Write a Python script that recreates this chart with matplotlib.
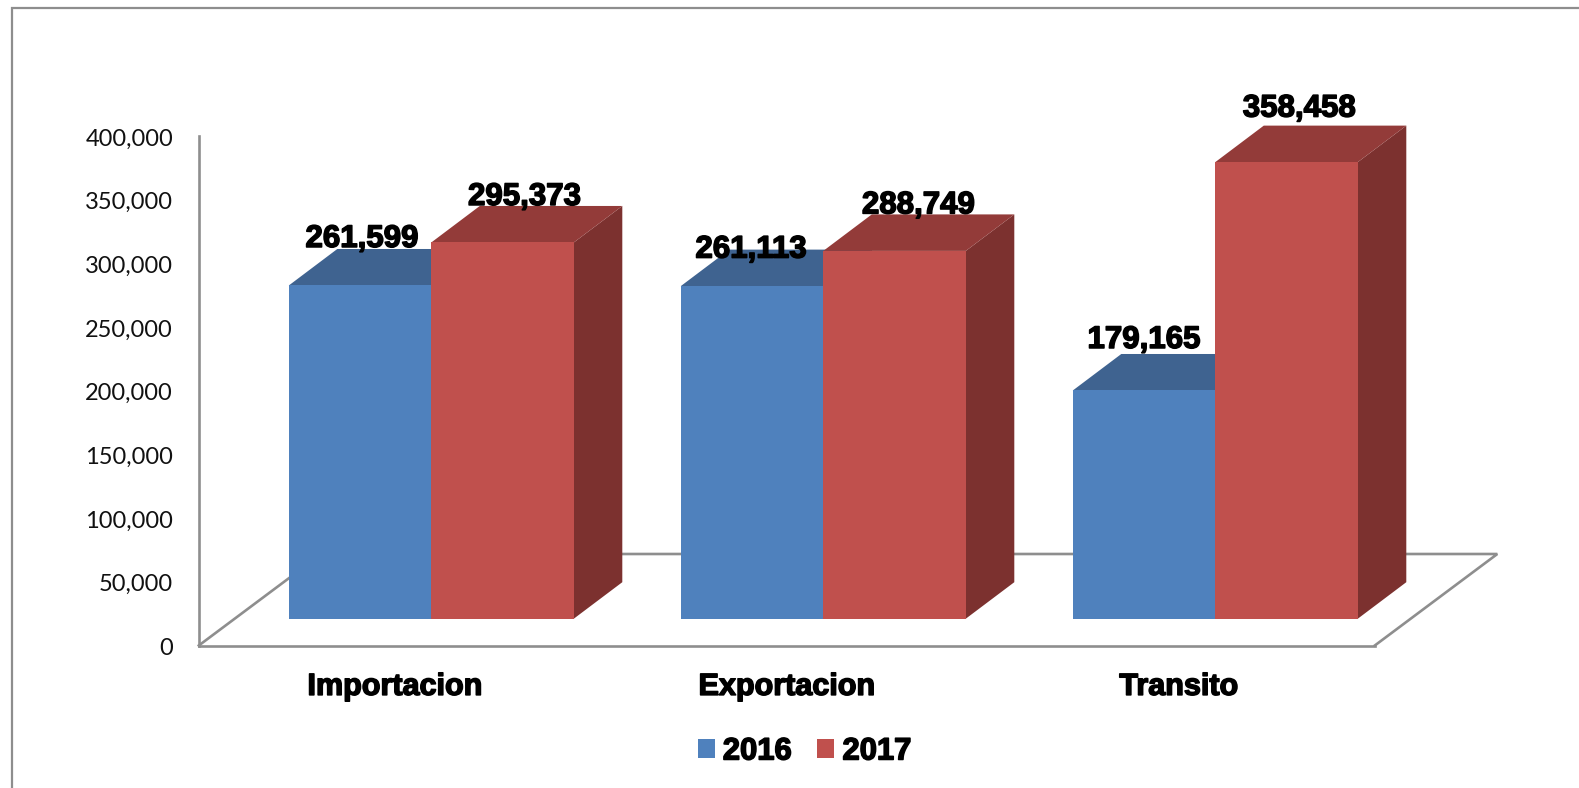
import matplotlib
matplotlib.use("Agg")
import matplotlib.pyplot as plt
import matplotlib.patheffects as pe
from matplotlib.lines import Line2D
from matplotlib.patches import Polygon
from matplotlib.transforms import ScaledTranslation

categories = ["Importacion", "Exportacion", "Transito"]
series_names = ["2016", "2017"]
values_2016 = [261599, 261113, 179165]
values_2017 = [295373, 288749, 358458]
y_ticks = [0, 50000, 100000, 150000, 200000, 250000, 300000, 350000, 400000]

W, H = 1579, 788
PLOT_L, PLOT_R, PLOT_B, PLOT_T = 198.8, 1374.8, 645.5, 136.0
px_x = 3 / (PLOT_R - PLOT_L)
px_y = 400000 / (PLOT_B - PLOT_T)

FLOOR_DX, FLOOR_DY = 122.5 * px_x, 91.5 * px_y
LIFT_DX, LIFT_DY = 36.5 * px_x, 26.8 * px_y
DEPTH_DX, DEPTH_DY = 48.5 * px_x, 36.5 * px_y
BAR_W = 142.5 * px_x

GREY = "#8e8e8e"
COLORS = {
    "2016": ("#4F81BD", "#3F6390", "#34527A"),
    "2017": ("#C0504D", "#933B39", "#7C312F"),
}
STROKE = [pe.withStroke(linewidth=1.1, foreground="black")]
BOLD = dict(family="Liberation Sans", fontweight="bold", color="black", path_effects=STROKE)

# label nudges in pixels relative to the back edge of each bar's top
LABEL_NUDGE = {
    "2016": [(2, 10), (-1, 0), (0, 14)],
    "2017": [(22, 9), (24, 9), (13, 17)],
}

fig = plt.figure(figsize=(W / 100, H / 100), dpi=100, facecolor="white")
ax = fig.add_axes([PLOT_L / W, 1 - PLOT_B / H, (PLOT_R - PLOT_L) / W, (PLOT_B - PLOT_T) / H])
ax.set_xlim(0, 3)
ax.set_ylim(0, 400000)
ax.patch.set_visible(False)

for s in ("top", "right"):
    ax.spines[s].set_visible(False)
for s in ("left", "bottom"):
    ax.spines[s].set_color(GREY)
    ax.spines[s].set_linewidth(1.9)

# floor outline
floor_x = [0, FLOOR_DX, 3 + FLOOR_DX, 3]
floor_y = [0, FLOOR_DY, FLOOR_DY, 0]
ax.plot(floor_x, floor_y, color=GREY, lw=1.9, clip_on=False, zorder=1, solid_joinstyle="miter")

handles = []
for name, vals, sign in (("2016", values_2016, -1), ("2017", values_2017, 0)):
    front, top, side = COLORS[name]
    for i, v in enumerate(vals):
        x0 = i + 0.5 + LIFT_DX + sign * BAR_W
        x1 = x0 + BAR_W
        y0 = LIFT_DY
        y1 = LIFT_DY + v
        z = 3 + i * 3 + (0 if name == "2016" else 1.5)
        ax.add_patch(Polygon([(x1, y0), (x1 + DEPTH_DX, y0 + DEPTH_DY),
                              (x1 + DEPTH_DX, y1 + DEPTH_DY), (x1, y1)],
                             fc=side, ec="none", clip_on=False, zorder=z))
        ax.add_patch(Polygon([(x0, y1), (x0 + DEPTH_DX, y1 + DEPTH_DY),
                              (x1 + DEPTH_DX, y1 + DEPTH_DY), (x1, y1)],
                             fc=top, ec="none", clip_on=False, zorder=z))
        bars = ax.bar(x0, v, width=BAR_W, bottom=y0, align="edge", color=front,
                      clip_on=False, zorder=z + 0.5, label=name if i == 0 else None)
        if i == 0:
            handles.append(bars[0])
        nx, ny = LABEL_NUDGE[name][i]
        ax.annotate(f"{v:,}", xy=(x0 + BAR_W / 2, y1 + DEPTH_DY),
                    xytext=(nx * 0.72, ny * 0.72), textcoords="offset points",
                    ha="center", va="center", fontsize=22.5, zorder=30,
                    annotation_clip=False, **BOLD)

ax.set_yticks(y_ticks)
ax.set_yticklabels([f"{t:,}" for t in y_ticks], family="Lato", fontsize=17, color="#111111")
ax.tick_params(axis="y", length=0, pad=18.5)
ax.set_xticks([i + 0.5 for i in range(len(categories))])
ax.set_xticklabels(categories, fontsize=22, **BOLD)
ax.tick_params(axis="x", length=0, pad=19)
shift = ScaledTranslation(0, -1 / 100, fig.dpi_scale_trans)
for lab in ax.get_yticklabels():
    lab.set_transform(lab.get_transform() + shift)

leg = ax.legend(handles=handles, labels=series_names, ncol=2, frameon=False,
                loc="center", bbox_to_anchor=(804.5 / W, 1 - 751.5 / H),
                bbox_transform=fig.transFigure,
                handlelength=0.556, handleheight=0.556, handletextpad=0.26,
                columnspacing=0.82, borderpad=0, borderaxespad=0,
                prop=dict(family="Liberation Sans", weight="bold", size=22.3))
for t in leg.get_texts():
    t.set_path_effects(STROKE)

# outer frame (left and top only are inside the picture)
fig.add_artist(Line2D([12 / W, 12 / W, 1], [0, 1 - 8 / H, 1 - 8 / H],
                      transform=fig.transFigure, color=GREY, lw=1.6,
                      solid_joinstyle="miter"))

fig.savefig("out.png", dpi=100, facecolor="white")
